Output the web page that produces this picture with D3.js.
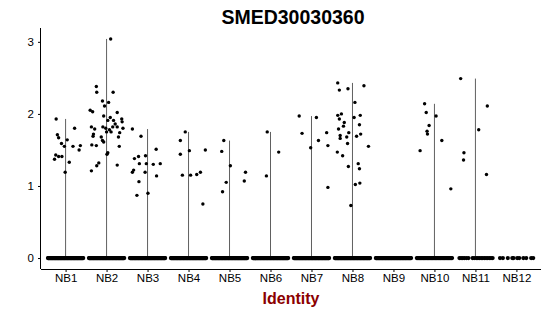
<!DOCTYPE html>
<html>
<head>
<meta charset="utf-8">
<script src="https://cdn.jsdelivr.net/npm/d3@7"></script>
<style>
  body { margin: 0; background: #fff; }
  text { font-family: "Liberation Sans", Arial, sans-serif; }
</style>
</head>
<body>
<div id="chart"></div>
<script>
var width = 550;
var height = 316;

var margin = { top: 28, right: 9, bottom: 47, left: 41 };

var title = "SMED30030360";
var xTitle = "Identity";

var groups = ["NB1", "NB2", "NB3", "NB4", "NB5", "NB6", "NB7", "NB8", "NB9", "NB10", "NB11", "NB12"];
var yTicks = [0, 1, 2, 3];

// expressing cells: [jitter (fraction of a category), expression value]
var nb1 = [[-0.23, 1.93], [-0.20, 1.71], [-0.17, 1.67], [-0.10, 1.59], [-0.03, 1.55], [0.04, 1.64],
    [0.22, 1.80], [0.18, 1.55], [0.33, 1.50], [0.36, 1.56], [-0.24, 1.43], [-0.17, 1.41],
    [-0.09, 1.41], [-0.27, 1.37], [0.09, 1.33], [-0.01, 1.19]];
var nb2 = [[0.10, 3.04], [-0.25, 2.38], [-0.24, 2.30], [0.16, 2.30], [-0.10, 2.18], [0.05, 2.16],
    [-0.05, 2.11], [-0.40, 2.05], [-0.34, 2.03], [0.26, 2.02], [-0.07, 1.97], [0.09, 1.95],
    [0.37, 1.93], [0.38, 1.89], [0.03, 1.91], [0.17, 1.91], [0.21, 1.86], [0.26, 1.82],
    [0.15, 1.82], [-0.37, 1.82], [-0.29, 1.79], [-0.09, 1.82], [-0.02, 1.80], [0.07, 1.78],
    [0.00, 1.75], [0.11, 1.75], [0.40, 1.80], [0.32, 1.74], [-0.32, 1.72], [-0.33, 1.69],
    [0.29, 1.68], [-0.13, 1.68], [-0.10, 1.63], [-0.07, 1.61], [-0.36, 1.57], [-0.25, 1.56],
    [0.31, 1.55], [0.03, 1.46], [0.01, 1.44], [-0.19, 1.32], [-0.24, 1.28], [0.26, 1.29],
    [-0.37, 1.21]];
var nb3 = [[-0.37, 1.79], [-0.16, 1.69], [0.21, 1.51], [-0.32, 1.38], [-0.22, 1.41], [-0.05, 1.42],
    [-0.20, 1.31], [-0.03, 1.31], [0.14, 1.30], [0.31, 1.31], [-0.34, 1.22], [-0.37, 1.19],
    [-0.06, 1.19], [0.22, 1.14], [-0.21, 1.06], [0.01, 0.90], [-0.26, 0.87]];
var nb4 = [[-0.08, 1.75], [-0.20, 1.63], [-0.20, 1.44], [0.02, 1.49], [0.41, 1.50], [-0.15, 1.15],
    [0.05, 1.15], [0.20, 1.16], [0.29, 1.19], [0.35, 0.75]];
var nb5 = [[-0.14, 1.63], [-0.19, 1.48], [0.02, 1.28], [0.39, 1.19], [0.36, 1.07], [-0.08, 1.05],
    [-0.17, 0.92]];
var nb6 = [[-0.08, 1.75], [0.20, 1.47], [-0.10, 1.14]];
var nb7 = [[-0.30, 1.97], [0.12, 1.95], [-0.23, 1.73], [0.37, 1.74], [0.17, 1.63], [-0.02, 1.53],
    [0.40, 1.56], [0.40, 0.98]];
var nb8 = [[-0.36, 2.43], [-0.32, 2.33], [-0.11, 2.35], [0.28, 2.39], [0.06, 2.16], [-0.36, 1.98],
    [-0.27, 2.00], [0.19, 1.98], [0.04, 1.95], [-0.32, 1.93], [-0.20, 1.88], [-0.22, 1.83],
    [0.17, 1.85], [-0.34, 1.79], [-0.09, 1.74], [0.20, 1.72], [-0.30, 1.70], [-0.30, 1.66],
    [-0.14, 1.68], [0.10, 1.69], [-0.12, 1.59], [0.39, 1.55], [-0.37, 1.47], [-0.24, 1.42],
    [0.14, 1.31], [0.17, 1.24], [-0.10, 1.27], [0.07, 1.02], [0.18, 1.04], [-0.04, 0.73]];
var nb9 = [];
var nb10 = [[-0.24, 2.14], [-0.20, 2.02], [0.04, 1.97], [-0.13, 1.84], [-0.18, 1.76], [-0.17, 1.72],
    [0.18, 1.63], [-0.35, 1.49], [0.40, 0.96]];
var nb11 = [[-0.36, 2.49], [0.29, 2.11], [0.08, 1.78], [-0.28, 1.46], [-0.29, 1.36], [0.27, 1.16]];
var nb12 = [];

var expressed = [nb1, nb2, nb3, nb4, nb5, nb6, nb7, nb8, nb9, nb10, nb11, nb12];

// cells with zero expression: how many per group (dense bands)
var zeroCounts = [80, 80, 80, 80, 80, 80, 80, 80, 70, 45, 0, 0];
// sparse zero bands read one by one
var nb11Zeros = [-0.39, -0.35, -0.31, -0.27, -0.22, -0.17, -0.07, -0.03, 0.02, 0.06, 0.10, 0.14,
    0.18, 0.22, 0.26, 0.30, 0.34, 0.38, 0.42];
var nb12Zeros = [-0.40, -0.33, -0.21, -0.10, -0.07, 0.02, 0.07, 0.17, 0.24, 0.36, 0.41];

var svg = d3.select("#chart").append("svg")
    .attr("width", width)
    .attr("height", height);

var innerW = width - margin.left - margin.right;
var innerH = height - margin.top - margin.bottom;

// ggplot style discrete expansion of 0.6 of a category on each side
var x = d3.scalePoint()
    .domain(groups)
    .range([margin.left, margin.left + innerW])
    .padding(0.6);
var step = x.step();

var maxVal = d3.max(expressed, function (g) { return d3.max(g, function (d) { return d[1]; }) || 0; });
var yPad = maxVal * 0.05;
var y = d3.scaleLinear()
    .domain([-yPad, maxVal + yPad])
    .range([margin.top + innerH, margin.top]);

// violins (collapsed to a thin line) from 0 to the group max
groups.forEach(function (g, i) {
    var top = d3.max(expressed[i], function (d) { return d[1]; });
    if (!top) return;
    svg.append("line")
        .attr("x1", x(g)).attr("x2", x(g))
        .attr("y1", y(0)).attr("y2", y(top))
        .attr("stroke", "#606060")
        .attr("stroke-width", 1);
});

var pointR = 1.7;

// zero band
var zeroG = svg.append("g").attr("fill", "#000");
groups.forEach(function (g, i) {
    var offs;
    if (i === 10) offs = nb11Zeros;
    else if (i === 11) offs = nb12Zeros;
    else offs = d3.range(zeroCounts[i]).map(function (k) {
        return -0.43 + 0.86 * k / (zeroCounts[i] - 1);
    });
    zeroG.selectAll(null)
        .data(offs)
        .enter()
        .append("circle")
        .attr("cx", function (o) { return x(g) + o * step; })
        .attr("cy", y(0))
        .attr("r", pointR + 0.4);
});

// expressing cells
var ptsG = svg.append("g").attr("fill", "#000");
groups.forEach(function (g, i) {
    ptsG.selectAll(null)
        .data(expressed[i])
        .enter()
        .append("circle")
        .attr("cx", function (d) { return x(g) + d[0] * step; })
        .attr("cy", function (d) { return y(d[1]); })
        .attr("r", pointR);
});

// axes
var xAxis = d3.axisBottom(x).tickSize(3).tickPadding(2);
var yAxis = d3.axisLeft(y).tickValues(yTicks).tickSize(3).tickPadding(4).tickFormat(d3.format("d"));

var gx = svg.append("g")
    .attr("transform", "translate(0," + (margin.top + innerH) + ")")
    .call(xAxis);
gx.select(".domain").attr("d", "M" + margin.left + ",0.5H" + (margin.left + innerW));

var gy = svg.append("g")
    .attr("transform", "translate(" + margin.left + ",0)")
    .call(yAxis);
gy.select(".domain").attr("d", "M-0.5," + margin.top + "V" + (margin.top + innerH));

svg.selectAll(".tick text")
    .attr("font-family", "Liberation Sans, Arial, sans-serif")
    .attr("font-size", "11.5px")
    .attr("fill", "#000");
svg.selectAll(".domain, .tick line").attr("stroke", "#000");

// titles
svg.append("text")
    .attr("x", margin.left + innerW / 2 + 2)
    .attr("y", 23.5)
    .attr("text-anchor", "middle")
    .attr("font-weight", "bold")
    .attr("font-size", "19.5px")
    .text(title);

svg.append("text")
    .attr("x", margin.left + innerW / 2)
    .attr("y", 304)
    .attr("text-anchor", "middle")
    .attr("font-weight", "bold")
    .attr("font-size", "16px")
    .attr("fill", "#8b0000")
    .text(xTitle);
</script>
</body>
</html>
